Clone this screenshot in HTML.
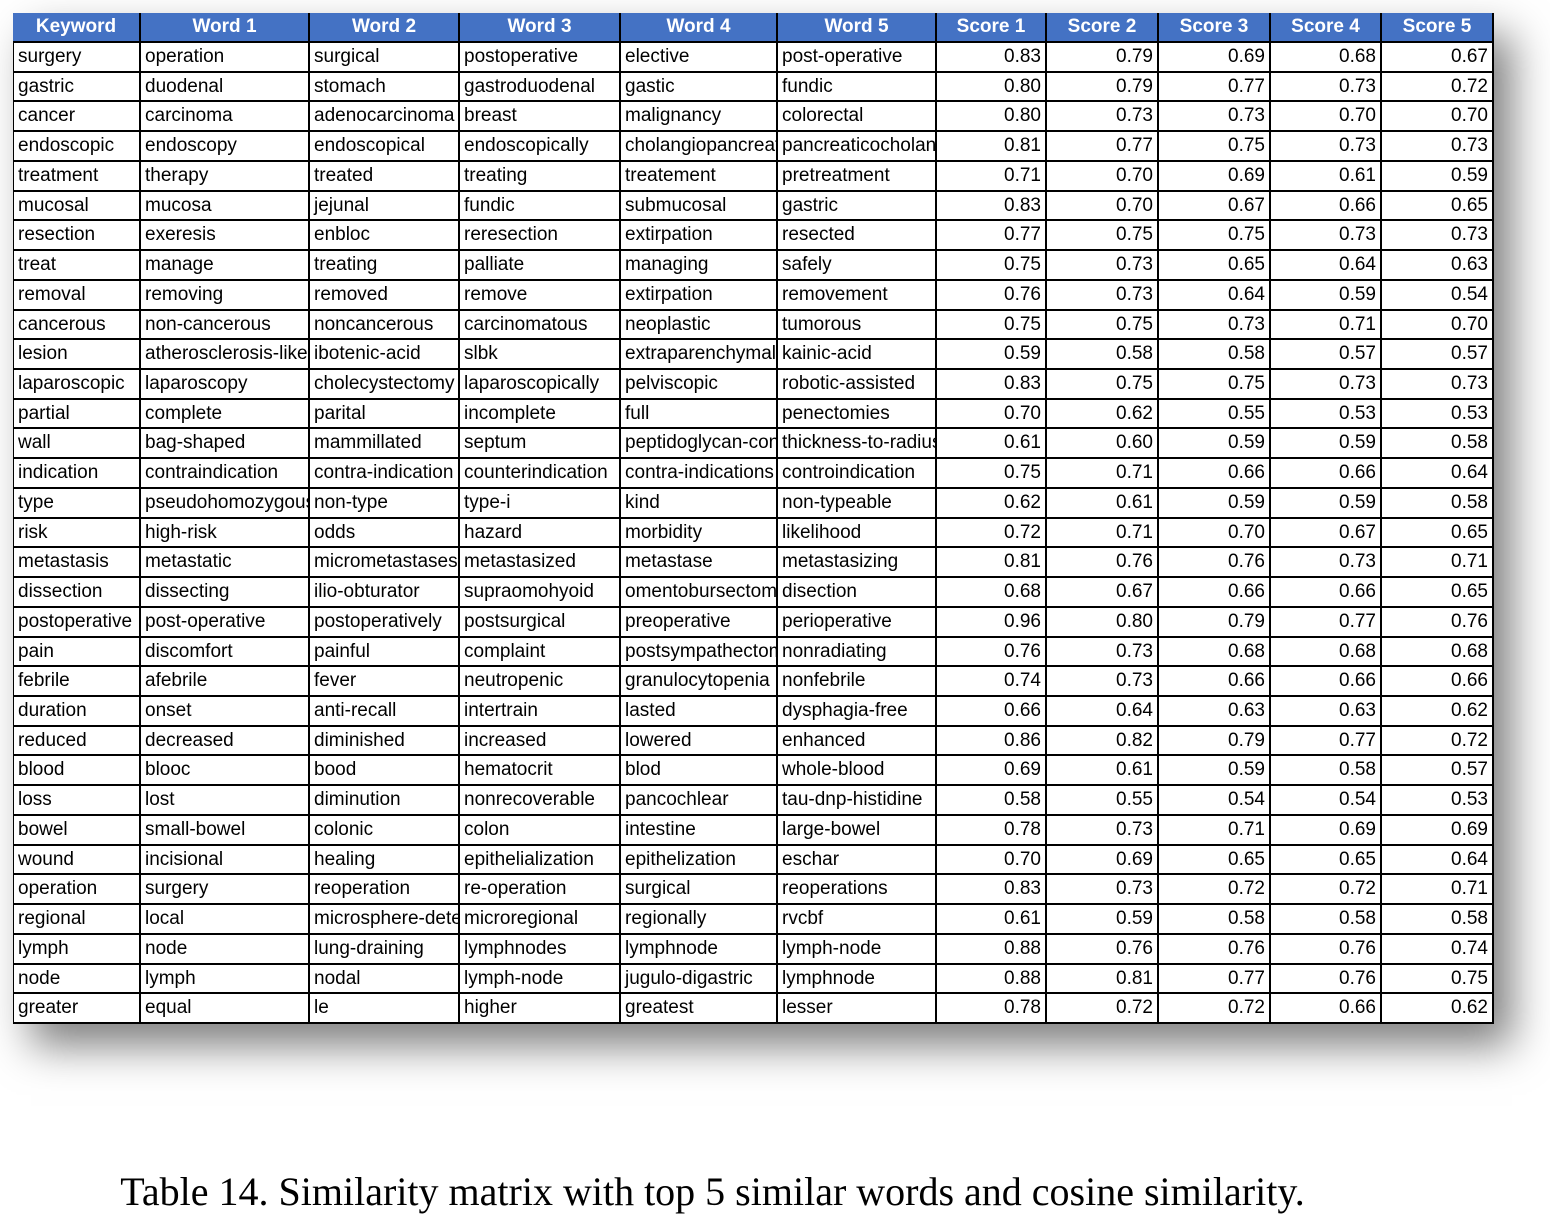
<!DOCTYPE html>
<html><head><meta charset="utf-8"><style>
body{margin:0;width:1550px;height:1226px;background:#fff;position:relative;overflow:hidden;font-family:"Liberation Sans",sans-serif}
#tbl{position:absolute;left:13px;top:13px;width:1481px;height:1011px;background:#fff;box-shadow:18px 22px 40px rgba(0,0,0,0.5)}
.c{position:absolute;box-sizing:border-box;overflow:hidden;white-space:nowrap;font-size:19px;line-height:29px;padding:0 4px;color:#000;border-right:2px solid #000;border-bottom:2px solid #000}
.h{background:#4472C4;color:#fff;font-weight:bold;text-align:center;border-color:#000}
.n{text-align:right}
#cap{position:absolute;left:0;width:1425px;top:1168px;text-align:center;font-family:"Liberation Serif",serif;font-size:40px}
</style></head><body>
<div id="tbl"></div>
<div id="cap">Table 14. Similarity matrix with top 5 similar words and cosine similarity.</div>
<script>
const headers=["Keyword","Word 1","Word 2","Word 3","Word 4","Word 5","Score 1","Score 2","Score 3","Score 4","Score 5"];
const colX=[0,128,297,447,608,765,924,1034,1146,1258,1369,1481];
const rows=[
["surgery","operation","surgical","postoperative","elective","post-operative","0.83","0.79","0.69","0.68","0.67"],
["gastric","duodenal","stomach","gastroduodenal","gastic","fundic","0.80","0.79","0.77","0.73","0.72"],
["cancer","carcinoma","adenocarcinoma","breast","malignancy","colorectal","0.80","0.73","0.73","0.70","0.70"],
["endoscopic","endoscopy","endoscopical","endoscopically","cholangiopancreatography","pancreaticocholangiography","0.81","0.77","0.75","0.73","0.73"],
["treatment","therapy","treated","treating","treatement","pretreatment","0.71","0.70","0.69","0.61","0.59"],
["mucosal","mucosa","jejunal","fundic","submucosal","gastric","0.83","0.70","0.67","0.66","0.65"],
["resection","exeresis","enbloc","reresection","extirpation","resected","0.77","0.75","0.75","0.73","0.73"],
["treat","manage","treating","palliate","managing","safely","0.75","0.73","0.65","0.64","0.63"],
["removal","removing","removed","remove","extirpation","removement","0.76","0.73","0.64","0.59","0.54"],
["cancerous","non-cancerous","noncancerous","carcinomatous","neoplastic","tumorous","0.75","0.75","0.73","0.71","0.70"],
["lesion","atherosclerosis-like","ibotenic-acid","slbk","extraparenchymal","kainic-acid","0.59","0.58","0.58","0.57","0.57"],
["laparoscopic","laparoscopy","cholecystectomy","laparoscopically","pelviscopic","robotic-assisted","0.83","0.75","0.75","0.73","0.73"],
["partial","complete","parital","incomplete","full","penectomies","0.70","0.62","0.55","0.53","0.53"],
["wall","bag-shaped","mammillated","septum","peptidoglycan-containing","thickness-to-radius","0.61","0.60","0.59","0.59","0.58"],
["indication","contraindication","contra-indication","counterindication","contra-indications","controindication","0.75","0.71","0.66","0.66","0.64"],
["type","pseudohomozygous","non-type","type-i","kind","non-typeable","0.62","0.61","0.59","0.59","0.58"],
["risk","high-risk","odds","hazard","morbidity","likelihood","0.72","0.71","0.70","0.67","0.65"],
["metastasis","metastatic","micrometastases","metastasized","metastase","metastasizing","0.81","0.76","0.76","0.73","0.71"],
["dissection","dissecting","ilio-obturator","supraomohyoid","omentobursectomy","disection","0.68","0.67","0.66","0.66","0.65"],
["postoperative","post-operative","postoperatively","postsurgical","preoperative","perioperative","0.96","0.80","0.79","0.77","0.76"],
["pain","discomfort","painful","complaint","postsympathectomy","nonradiating","0.76","0.73","0.68","0.68","0.68"],
["febrile","afebrile","fever","neutropenic","granulocytopenia","nonfebrile","0.74","0.73","0.66","0.66","0.66"],
["duration","onset","anti-recall","intertrain","lasted","dysphagia-free","0.66","0.64","0.63","0.63","0.62"],
["reduced","decreased","diminished","increased","lowered","enhanced","0.86","0.82","0.79","0.77","0.72"],
["blood","blooc","bood","hematocrit","blod","whole-blood","0.69","0.61","0.59","0.58","0.57"],
["loss","lost","diminution","nonrecoverable","pancochlear","tau-dnp-histidine","0.58","0.55","0.54","0.54","0.53"],
["bowel","small-bowel","colonic","colon","intestine","large-bowel","0.78","0.73","0.71","0.69","0.69"],
["wound","incisional","healing","epithelialization","epithelization","eschar","0.70","0.69","0.65","0.65","0.64"],
["operation","surgery","reoperation","re-operation","surgical","reoperations","0.83","0.73","0.72","0.72","0.71"],
["regional","local","microsphere-detected","microregional","regionally","rvcbf","0.61","0.59","0.58","0.58","0.58"],
["lymph","node","lung-draining","lymphnodes","lymphnode","lymph-node","0.88","0.76","0.76","0.76","0.74"],
["node","lymph","nodal","lymph-node","jugulo-digastric","lymphnode","0.88","0.81","0.77","0.76","0.75"],
["greater","equal","le","higher","greatest","lesser","0.78","0.72","0.72","0.66","0.62"]
];
const t=document.getElementById('tbl');
const H0=30, RH=(1011-H0)/rows.length;
function cell(txt,ci,y,h,cls){
  const d=document.createElement('div');
  d.className='c '+cls;
  d.style.left=colX[ci]+'px';d.style.top=y+'px';
  d.style.width=(colX[ci+1]-colX[ci])+'px';d.style.height=h+'px';
  d.style.lineHeight=(h-2)+'px';
  d.textContent=txt;
  t.appendChild(d);
  return d;
}
headers.forEach((h,i)=>{
  const d=cell(h,i,0,H0,'h');
  
  
});
rows.forEach((r,ri)=>{
  const y=Math.round(H0+ri*RH), y2=Math.round(H0+(ri+1)*RH);
  r.forEach((v,ci)=>{
    const d=cell(v,ci,y,y2-y,ci>=6?'n':'');
    if(ci===0)d.style.borderLeft='1px solid #000';
    
    
  });
});
</script>
</body></html>
